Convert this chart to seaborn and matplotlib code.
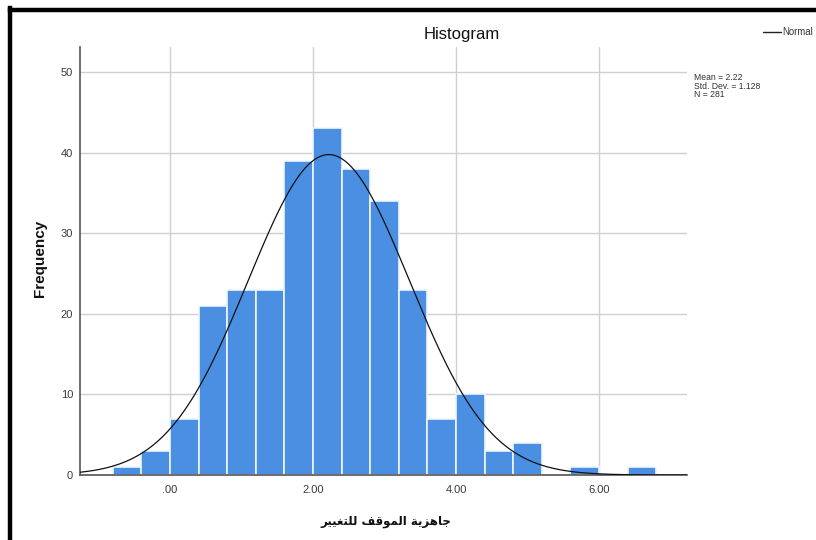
import numpy as np
import pandas as pd
import matplotlib
matplotlib.use("Agg")
import matplotlib.pyplot as plt
from matplotlib.lines import Line2D
import seaborn as sns

# Histogram bins (width 0.4) and frequencies
bin_edges = [-0.8, -0.4, 0.0, 0.4, 0.8, 1.2, 1.6, 2.0, 2.4, 2.8, 3.2,
             3.6, 4.0, 4.4, 4.8, 5.2, 5.6, 6.0, 6.4, 6.8]
frequencies = [1, 3, 7, 21, 23, 23, 39, 43, 38, 34, 23,
               7, 10, 3, 4, 0, 1, 0, 1]

# Summary statistics for the fitted normal curve
mean_value = 2.22
std_dev = 1.128
n_obs = 281

x_ticks = [0, 2, 4, 6]
x_tick_labels = [".00", "2.00", "4.00", "6.00"]
y_ticks = [0, 10, 20, 30, 40, 50]
y_tick_labels = ["0", "10", "20", "30", "40", "50"]

# Arabic axis title in logical order, written with contextual letter forms
word1 = "\uFE9F\uFE8E\uFEEB\uFEB0\uFEF3\uFE94"
word2 = "\uFE8D\uFEDF\uFEE4\uFEEE\uFED7\uFED2"
word3 = "\uFEDF\uFEE0\uFE98\uFED0\uFEF4\uFEF4\uFEAE"
x_title = (word1 + " " + word2 + " " + word3)[::-1]

sns.set_theme(style="white")
plt.rcParams["font.family"] = ["Liberation Sans", "DejaVu Sans"]

W, H = 816, 540
fig = plt.figure(figsize=(W / 100, H / 100), dpi=100)
fig.patch.set_facecolor("white")

ax_left, ax_right, ax_top, ax_bottom = 80, 687, 47, 475
ax = fig.add_axes([ax_left / W, 1 - ax_bottom / H,
                   (ax_right - ax_left) / W, (ax_bottom - ax_top) / H])

edges = np.array(bin_edges)
centers = (edges[:-1] + edges[1:]) / 2
df = pd.DataFrame({"value": centers, "count": frequencies})

sns.histplot(data=df, x="value", weights="count", bins=bin_edges, ax=ax,
             color="#4a8fe2", alpha=1.0, edgecolor="#eef6ff", linewidth=1.2,
             zorder=2)

# Normal curve scaled to counts per bin
x_min, x_max = -1.26, 7.23
bin_width = bin_edges[1] - bin_edges[0]
xs = np.linspace(x_min, x_max, 400)
ys = n_obs * bin_width * np.exp(-0.5 * ((xs - mean_value) / std_dev) ** 2) / (std_dev * np.sqrt(2 * np.pi))
ax.plot(xs, ys, color="#111111", linewidth=0.9, zorder=3)

ax.set_xlim(x_min, x_max)
ax.set_ylim(0, 53.1)
ax.set_xticks(x_ticks)
ax.set_xticklabels(x_tick_labels)
ax.set_yticks(y_ticks)
ax.set_yticklabels(y_tick_labels)
ax.tick_params(axis="both", length=0, labelsize=8, labelcolor="#3a3a3a")
ax.tick_params(axis="x", pad=7)
ax.tick_params(axis="y", pad=5)
ax.set_xlabel("")
ax.set_ylabel("")

ax.grid(True, color="#cfcfcf", linewidth=1.0, zorder=0)
ax.set_axisbelow(True)
for side in ["top", "right"]:
    ax.spines[side].set_visible(False)
for side in ["left", "bottom"]:
    ax.spines[side].set_color("#555555")
    ax.spines[side].set_linewidth(1.2)

# Titles
fig.text(462 / W, 1 - 35 / H, "Histogram", ha="center", va="center",
         fontsize=12, color="#111111")
fig.text(40 / W, 1 - 258 / H, "Frequency", ha="center", va="center",
         rotation=90, fontsize=11, fontweight="bold", color="#111111")
fig.text(386 / W, 1 - 521 / H, x_title, ha="center", va="center",
         fontsize=8.5, fontweight="bold", family=["DejaVu Sans"], color="#111111")

# Statistics box
fig.text(694 / W, 1 - 73 / H,
         f"Mean = {mean_value:.2f}\nStd. Dev. = {std_dev:.3f}\nN = {n_obs}",
         ha="left", va="top", fontsize=6.2, linespacing=0.95, color="#333333")

# Legend entry for the normal curve
fig.add_artist(Line2D([763 / W, 781 / W], [1 - 32 / H, 1 - 32 / H],
                      color="#222222", linewidth=1.0))
fig.text(782 / W, 1 - 32 / H, "Normal", ha="left", va="center",
         fontsize=6.9, color="#333333")

# Outer frame
fig.add_artist(Line2D([10 / W, 10 / W], [0, 1 - 8 / H], color="black",
                      linewidth=3.2, solid_capstyle="projecting"))
fig.add_artist(Line2D([10 / W, 1.0], [1 - 10 / H, 1 - 10 / H], color="black",
                      linewidth=3.2, solid_capstyle="projecting"))

fig.savefig("out.png", dpi=100, facecolor="white")
